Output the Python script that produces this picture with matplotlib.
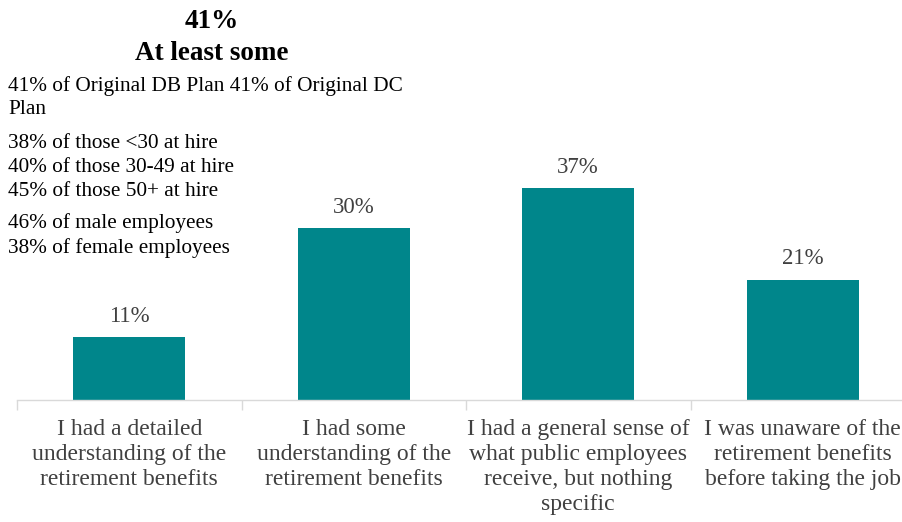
import matplotlib.pyplot as plt
import numpy as np
from matplotlib.transforms import blended_transform_factory

categories = [
    "I had a detailed\nunderstanding of the\nretirement benefits",
    "I had some\nunderstanding of the\nretirement benefits",
    "I had a general sense of\nwhat public employees\nreceive, but nothing\nspecific",
    "I was unaware of the\nretirement benefits\nbefore taking the job",
]
values = [11, 30, 37, 21]
value_labels = ["11%", "30%", "37%", "21%"]

headline = ["41%", "At least some"]
side_lines = [
    "41% of Original DB Plan 41% of Original DC",
    "Plan",
    "38% of those <30 at hire",
    "40% of those 30-49 at hire",
    "45% of those 50+ at hire",
    "46% of male employees",
    "38% of female employees",
]

plt.rcParams['font.family'] = ['Liberation Serif', 'DejaVu Serif']

W, H = 902, 522
fig = plt.figure(figsize=(W / 100, H / 100), dpi=100)
# axes runs slightly past the right edge, like the original
ax = fig.add_axes([17 / W, (H - 400) / H, 898 / W, 229 / H])

x = np.arange(len(categories))
ax.bar(x, values, width=0.5, color='#00868B', zorder=2)
for xi, v, lab in zip(x, values, value_labels):
    ax.annotate(lab, (xi, v), xytext=(0, 15), textcoords='offset points',
                ha='center', va='center', fontsize=16.5, color='#404040')

ax.set_xlim(-0.5, len(categories) - 0.5)
ax.set_ylim(0, 40)
ax.set_yticks([])
for s in ['top', 'right', 'left']:
    ax.spines[s].set_visible(False)
ax.spines['bottom'].set_color('#d9d9d9')
ax.spines['bottom'].set_linewidth(1)

ax.set_xticks(np.arange(len(categories) + 1) - 0.5)
ax.set_xticklabels([])
ax.tick_params(axis='x', length=7, color='#d9d9d9', width=1)

# category labels: x in data units, y in figure units
tr = blended_transform_factory(ax.transData, fig.transFigure)
for xi, lab in zip(x, categories):
    ax.text(xi, 1 - 419 / H, lab, transform=tr, ha='center', va='top',
            fontsize=17, color='#404040', linespacing=1.26)

head_y = [21, 53]
for txt, yy in zip(headline, head_y):
    fig.text(212 / W, 1 - yy / H, txt, ha='center', va='center', fontsize=19.5,
             fontweight='bold')

side_y = [86, 109, 143, 167, 191, 223, 248]
for txt, yy in zip(side_lines, side_y):
    fig.text(8 / W, 1 - yy / H, txt, ha='left', va='center', fontsize=15.3)

fig.savefig('out.png', dpi=100)
